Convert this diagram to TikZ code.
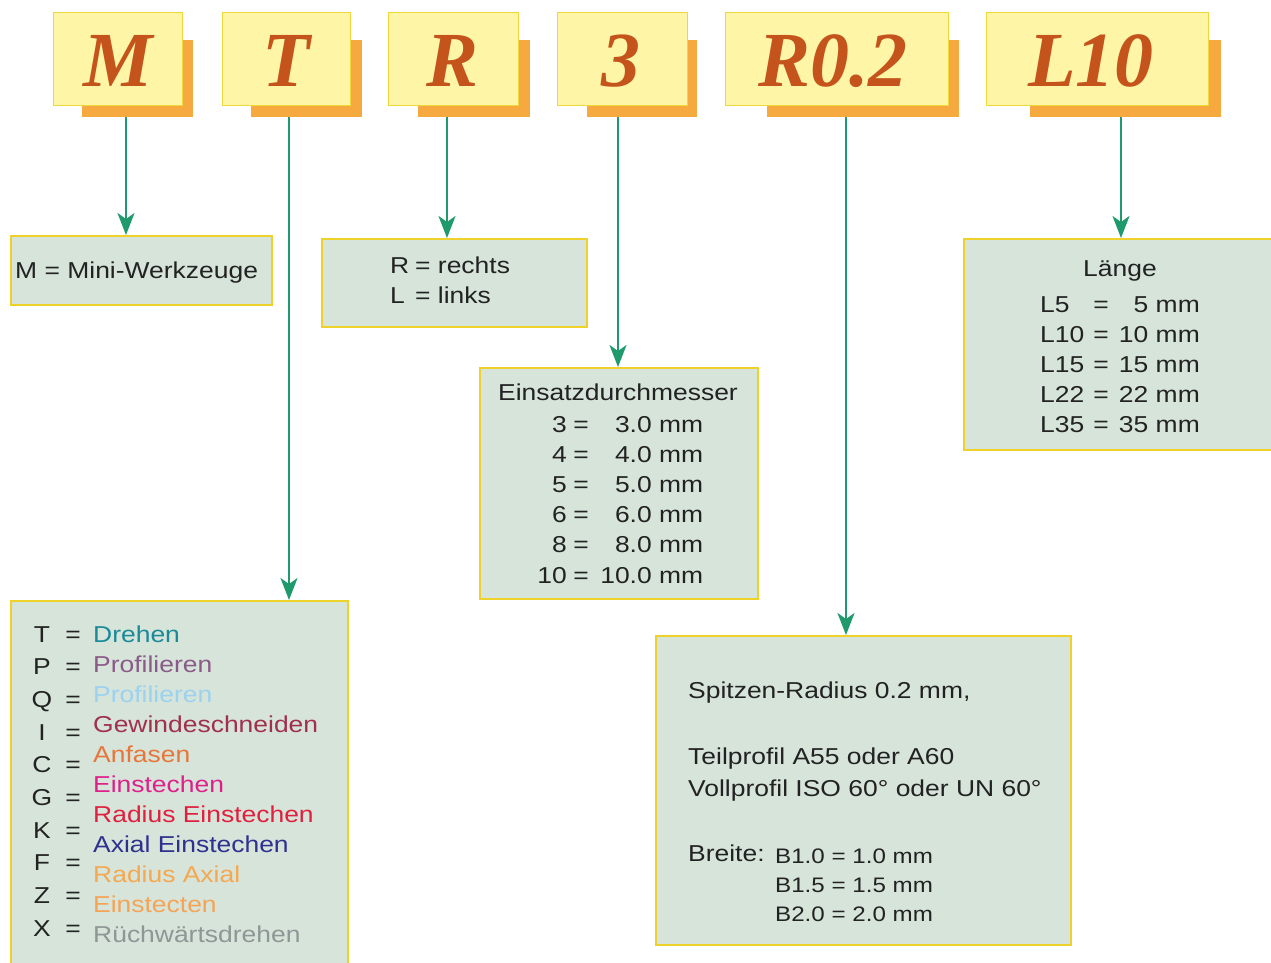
\documentclass[tikz,border=0pt]{standalone}
\usepackage{fontspec}
\setmainfont[FakeStretch=1.15]{Liberation Sans}
\newfontfamily\codefont{Liberation Serif}
\usetikzlibrary{arrows.meta}
\definecolor{topfill}{HTML}{FFF5A6}
\definecolor{topline}{HTML}{EED83A}
\definecolor{shadowc}{HTML}{F6A93E}
\definecolor{codecol}{HTML}{C4541C}
\definecolor{boxfill}{HTML}{D6E4DA}
\definecolor{boxline}{HTML}{EED22A}
\definecolor{arrowcol}{HTML}{1E9A6C}
\definecolor{txt}{HTML}{222222}
\definecolor{cDrehen}{HTML}{1A8A98}
\definecolor{cProfA}{HTML}{8A5A88}
\definecolor{cProfB}{HTML}{9CD2F0}
\definecolor{cGew}{HTML}{A0304E}
\definecolor{cAnf}{HTML}{E8763A}
\definecolor{cEin}{HTML}{E0208A}
\definecolor{cRadE}{HTML}{E0203E}
\definecolor{cAxE}{HTML}{30308E}
\definecolor{cRadA}{HTML}{F5A850}
\definecolor{cEinZ}{HTML}{F5A456}
\definecolor{cRue}{HTML}{8E9696}
\tikzset{
  codebox/.style={draw=topline, fill=topfill, line width=1.2pt, inner sep=0pt, anchor=north west},
  infobox/.style={draw=boxline, fill=boxfill, line width=2pt, inner sep=0pt, anchor=north west},
  codetext/.style={font=\codefont\bfseries\itshape\fontsize{78}{78}\selectfont, text=codecol, anchor=base, inner sep=0pt},
  lbl/.style={font=\fontsize{23}{30}\selectfont, text=txt, inner sep=0pt},
  slbl/.style={font=\fontsize{21}{28}\selectfont, text=txt, inner sep=0pt},
  arr/.style={draw=arrowcol, line width=2pt, -{Stealth[length=22pt,width=17pt,inset=6pt]}}
}
\begin{document}
\begin{tikzpicture}[x=1pt,y=-1pt]
\useasboundingbox (0,0) rectangle (1271,962);
\clip (0,0) rectangle (1271,962);
\fill[white] (0,0) rectangle (1271,962);

% shadows
\fill[shadowc] (82,40) rectangle (193,117);
\fill[shadowc] (251,40) rectangle (362,117);
\fill[shadowc] (418,40) rectangle (530,117);
\fill[shadowc] (587,40) rectangle (697,117);
\fill[shadowc] (767,40) rectangle (959,117);
\fill[shadowc] (1030,40) rectangle (1221,117);

% code boxes
\node[codebox, minimum width=129pt, minimum height=93pt] (bM) at (53,12) {};
\node[codebox, minimum width=128pt, minimum height=93pt] (bT) at (222,12) {};
\node[codebox, minimum width=130pt, minimum height=93pt] (bR) at (388,12) {};
\node[codebox, minimum width=130pt, minimum height=93pt] (b3) at (557,12) {};
\node[codebox, minimum width=223pt, minimum height=93pt] (bR02) at (725,12) {};
\node[codebox, minimum width=222pt, minimum height=93pt] (bL10) at (986,12) {};

\node[codetext] (tM) at (118,86) {M};
\node[codetext] (tT) at (286,86) {T};
\node[codetext] (tR) at (453,86) {R};
\node[codetext] (t3) at (621,86) {3};
\node[codetext] (tR02) at (833,86) {R0.2};
\node[codetext] (tL10) at (1091,86) {L10};

% info boxes
\node[infobox, minimum width=261pt, minimum height=69pt] (mM) at (10,235) {};
\node[lbl, anchor=base west] (mMt) at (15,278) {M = Mini-Werkzeuge};

\node[infobox, minimum width=265pt, minimum height=88pt] (mR) at (321,238) {};
\node[lbl, anchor=base west] (mRk1) at (390,273) {R};
\node[lbl, anchor=base west] (mRv1) at (415,273) {= rechts};
\node[lbl, anchor=base west] (mRk2) at (390,303) {L};
\node[lbl, anchor=base west] (mRv2) at (415,303) {= links};

\node[infobox, minimum width=278pt, minimum height=231pt] (m3) at (479,367) {};
\node[lbl, anchor=base] (m3t) at (618,400) {Einsatzdurchmesser};
\foreach \k/\v [count=\i from 0] in {3/3.0,4/4.0,5/5.0,6/6.0,8/8.0,10/10.0}{
  \node[lbl, anchor=base east] (m3k\i) at (567,432+30.2*\i) {\k};
  \node[lbl, anchor=base] (m3e\i) at (581,432+30.2*\i) {=};
  \node[lbl, anchor=base east] (m3v\i) at (652,432+30.2*\i) {\v};
  \node[lbl, anchor=base west] (m3m\i) at (659,432+30.2*\i) {mm};
}

\node[infobox, minimum width=320pt, minimum height=211pt] (mL) at (963,238) {};
\node[lbl, anchor=base] (mLt) at (1120,276) {Länge};
\foreach \k/\v [count=\i from 0] in {L5/5,L10/10,L15/15,L22/22,L35/35}{
  \node[lbl, anchor=base west] (mLk\i) at (1040,312+30*\i) {\k};
  \node[lbl, anchor=base] (mLe\i) at (1101,312+30*\i) {=};
  \node[lbl, anchor=base east] (mLv\i) at (1200,312+30*\i) {\v\ mm};
}

\node[infobox, minimum width=415pt, minimum height=309pt] (mB) at (655,635) {};
\node[lbl, anchor=base west] (mB1) at (688,698) {Spitzen-Radius 0.2 mm,};
\node[lbl, anchor=base west] (mB2) at (688,764) {Teilprofil A55 oder A60};
\node[lbl, anchor=base west] (mB3) at (688,796) {Vollprofil ISO 60° oder UN 60°};
\node[lbl, anchor=base west] (mB4) at (688,861) {Breite:};
\node[slbl, anchor=base west] (mB5) at (775,863) {B1.0 = 1.0 mm};
\node[slbl, anchor=base west] (mB6) at (775,892) {B1.5 = 1.5 mm};
\node[slbl, anchor=base west] (mB7) at (775,921) {B2.0 = 2.0 mm};

\node[infobox, minimum width=337pt, minimum height=380pt] (mT) at (10,600) {};
\foreach \k [count=\i from 0] in {T,P,Q,I,C,G,K,F,Z,X}{
  \node[lbl, anchor=base] (mTk\i) at (42,642+32.7*\i) {\k};
  \node[lbl, anchor=base] (mTe\i) at (73,642+32.7*\i) {=};
}
\foreach \d/\c [count=\i from 0] in {Drehen/cDrehen,Profilieren/cProfA,Profilieren/cProfB,Gewindeschneiden/cGew,Anfasen/cAnf,Einstechen/cEin,Radius Einstechen/cRadE,Axial Einstechen/cAxE,Radius Axial/cRadA,Einstecten/cEinZ,Rüchwärtsdrehen/cRue}{
  \node[lbl, anchor=base west, text=\c] (mTd\i) at (93,642+30*\i) {\d};
}

% connectors
\coordinate (aM) at (126,117);
\coordinate (aT) at (289,117);
\coordinate (aR) at (447,117);
\coordinate (a3) at (618,117);
\coordinate (aR02) at (846,117);
\coordinate (aL10) at (1121,117);
\draw[arr] (aM) -- (aM |- mM.north);
\draw[arr] (aT) -- (aT |- mT.north);
\draw[arr] (aR) -- (aR |- mR.north);
\draw[arr] (a3) -- (a3 |- m3.north);
\draw[arr] (aR02) -- (aR02 |- mB.north);
\draw[arr] (aL10) -- (aL10 |- mL.north);
\end{tikzpicture}
\end{document}
